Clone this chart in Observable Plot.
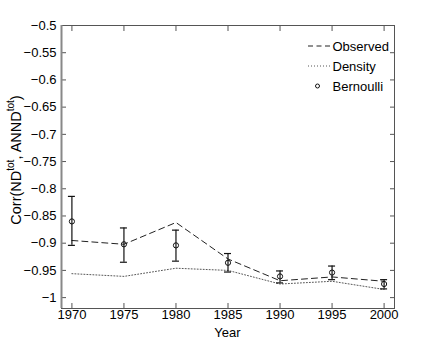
<!DOCTYPE html>
<html>
<head>
<meta charset="utf-8">
<script src="https://cdn.jsdelivr.net/npm/d3@7"></script>
<script src="https://cdn.jsdelivr.net/npm/@observablehq/plot@0.6"></script>
<style>
  html, body { margin: 0; padding: 0; background: #fff; }
  #chart svg { display: block; }
</style>
</head>
<body>
<div id="chart"></div>
<script>
const years = [1970, 1975, 1980, 1985, 1990, 1995, 2000];
const observed = [-0.895, -0.902, -0.862, -0.929, -0.969, -0.962, -0.970];
const density = [-0.956, -0.961, -0.946, -0.950, -0.975, -0.970, -0.985];
const bernoulliMean = [-0.860, -0.902, -0.904, -0.936, -0.961, -0.954, -0.975];
const bernoulliLow = [-0.904, -0.935, -0.933, -0.953, -0.973, -0.967, -0.984];
const bernoulliHigh = [-0.814, -0.872, -0.876, -0.919, -0.951, -0.942, -0.967];
const xTicks = [1970, 1975, 1980, 1985, 1990, 1995, 2000];
const yTicks = [-0.5, -0.55, -0.6, -0.65, -0.7, -0.75, -0.8, -0.85, -0.9, -0.95, -1];

const obsData = years.map((y, i) => ({year: y, v: observed[i]}));
const denData = years.map((y, i) => ({year: y, v: density[i]}));
const berData = years.map((y, i) => ({year: y, m: bernoulliMean[i], lo: bernoulliLow[i], hi: bernoulliHigh[i]}));

const fmt = d3.format("");
const font = "Liberation Sans, Arial, Helvetica, sans-serif";

const plot = Plot.plot({
  width: 436,
  height: 347,
  marginLeft: 61,
  marginRight: 42,
  marginTop: 25,
  marginBottom: 39,
  style: {fontFamily: font, fontSize: "13px", color: "#000", background: "#fff"},
  x: {domain: [1969, 2001], label: null},
  y: {domain: [-1.02, -0.5], label: null},
  marks: [
    Plot.frame({stroke: "#555", strokeWidth: 1}),
    Plot.axisX({anchor: "bottom", ticks: xTicks, tickFormat: d => String(d), tickSize: -5, tickPadding: 6.5, stroke: "#555", fill: "#000", label: null}),
    Plot.axisX({anchor: "top", ticks: xTicks, tickFormat: null, text: null, tickSize: -5, stroke: "#555", label: null}),
    Plot.axisY({anchor: "left", ticks: yTicks, tickFormat: fmt, tickSize: -5, tickPadding: 10, stroke: "#555", fill: "#000", label: null}),
    Plot.axisY({anchor: "right", ticks: yTicks, tickFormat: null, text: null, tickSize: -5, stroke: "#555", label: null}),
    Plot.ruleX([1969], {stroke: "#888", strokeWidth: 2}),
    Plot.line(denData, {x: "year", y: "v", stroke: "#444", strokeWidth: 0.9, strokeDasharray: "1,2"}),
    Plot.line(obsData, {x: "year", y: "v", stroke: "#222", strokeWidth: 1, strokeDasharray: "6,4"}),
    Plot.ruleX(berData, {x: "year", y1: "lo", y2: "hi", stroke: "#111", strokeWidth: 1.2}),
    Plot.ruleY(berData, {y: "lo", x1: "year", x2: "year", insetLeft: -3.5, insetRight: -3.5, stroke: "#111", strokeWidth: 1.2}),
    Plot.ruleY(berData, {y: "hi", x1: "year", x2: "year", insetLeft: -3.5, insetRight: -3.5, stroke: "#111", strokeWidth: 1.2}),
    Plot.dot(berData, {x: "year", y: "m", r: 2.6, stroke: "#111", fill: "none", strokeWidth: 1})
  ]
});

document.getElementById("chart").appendChild(plot);

const svg = d3.select(plot);

// Axis labels
svg.append("text")
  .attr("x", 227.5).attr("y", 336.5)
  .attr("text-anchor", "middle")
  .attr("font-family", font).attr("font-size", 13).attr("fill", "#000")
  .text("Year");

const yl = svg.append("text")
  .attr("transform", "translate(21,160) rotate(-90)")
  .attr("text-anchor", "middle")
  .attr("font-family", font).attr("font-size", 14.5).attr("fill", "#000");
yl.append("tspan").text("Corr(ND");
yl.append("tspan").attr("font-size", 10).attr("dy", -7).text("tot");
yl.append("tspan").attr("dy", 7).text(", ANND");
yl.append("tspan").attr("font-size", 10).attr("dy", -7).text("tot");
yl.append("tspan").attr("dy", 7).text(")");

// Legend
const legend = svg.append("g").attr("font-family", font).attr("font-size", 13).attr("fill", "#000").attr("text-anchor", "start");
const lx = 332.5, ly = [46, 66, 86];
legend.append("line").attr("x1", 308).attr("x2", 332).attr("y1", ly[0]).attr("y2", ly[0])
  .attr("stroke", "#222").attr("stroke-dasharray", "5,3.5");
legend.append("line").attr("x1", 308).attr("x2", 332).attr("y1", ly[1]).attr("y2", ly[1])
  .attr("stroke", "#444").attr("stroke-width", 0.9).attr("stroke-dasharray", "1,2");
legend.append("circle").attr("cx", 317.5).attr("cy", ly[2]).attr("r", 2).attr("fill", "none").attr("stroke", "#111");
const labels = ["Observed", "Density", "Bernoulli"];
labels.forEach((t, i) => {
  legend.append("text").attr("x", lx).attr("y", ly[i]).attr("dy", "0.35em").attr("text-anchor", "start").text(t);
});
</script>
</body>
</html>
